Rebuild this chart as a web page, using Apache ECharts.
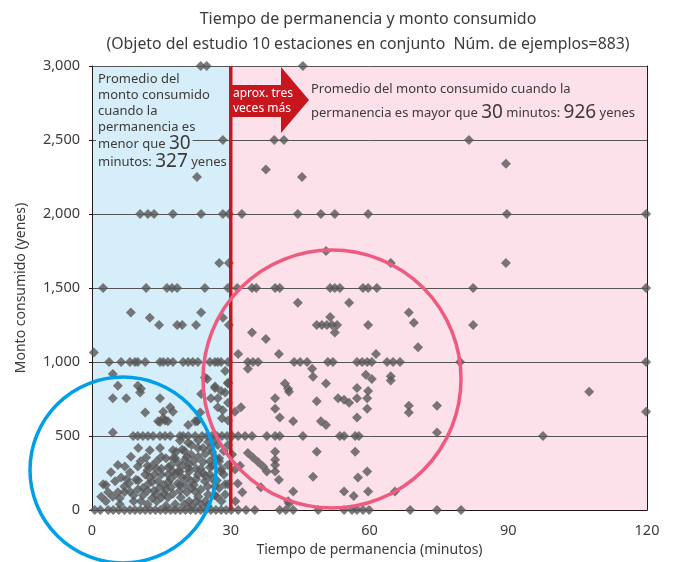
<!DOCTYPE html>
<html>
<head>
<meta charset="utf-8">
<script src="https://cdn.jsdelivr.net/npm/echarts@6/dist/echarts.min.js"></script>
<style>
  html, body { margin: 0; padding: 0; background: #fff; }
  #chart { width: 673px; height: 562px; }
</style>
</head>
<body>
<div id="chart"></div>
<script>
// ---- datos (minutos, yenes) ----
const ptsAbove2000 = [
  [23.5, 3000], [24.8, 3000], [45.6, 3000],
  [28.3, 2500], [39.4, 2500], [41.5, 2500], [81.5, 2500],
  [37.6, 2300], [22.7, 2250], [45.4, 2250], [89.5, 2340]
];
const ptsRow2000 = [
  [10.4, 2000], [12.1, 2000], [13.4, 2000], [17.5, 2000], [23.6, 2000], [28.3, 2000],
  [29.6, 2000], [32.4, 2000], [44.5, 2000], [49.5, 2000], [52.5, 2000], [59.7, 2000],
  [89.7, 2000], [119.8, 2000],
  [27.5, 1670], [29.6, 1670], [50.6, 1750], [64.6, 1670], [89.5, 1670]
];
const ptsRow1500 = [
  [2.4, 1500], [11.7, 1500], [16.2, 1500], [17.3, 1500], [18.4, 1500], [24.4, 1500],
  [29.4, 1500], [31.4, 1500], [34.6, 1500], [35.5, 1500], [39.6, 1500], [40.6, 1500],
  [51.5, 1500], [52.5, 1500], [53.6, 1500], [58.6, 1500], [59.7, 1500], [61.6, 1500],
  [82.4, 1500], [119.8, 1500]
];
const pts1000to1500 = [
  [8.4, 1335], [12.5, 1300], [14.5, 1250], [18.4, 1250], [19.5, 1250], [22.5, 1250],
  [23.6, 1335], [28.3, 1300], [29.6, 1250], [34.6, 1200], [37.6, 1155], [44.5, 1400],
  [55.6, 1400], [51.5, 1305], [48.6, 1250], [49.7, 1250], [50.8, 1250], [51.9, 1250],
  [53, 1250], [52.5, 1200], [59.7, 1250], [68.5, 1335], [69.6, 1265], [70.5, 1100],
  [31.6, 1055], [40.4, 1055], [61.4, 1055], [82.4, 1250], [0.4, 1065]
];
const ptsRow1000 = [
  [3.7, 1000], [6.3, 1000], [8.2, 1000], [9.3, 1000], [9.9, 1000], [11.5, 1000],
  [14.7, 1000], [15.4, 1000], [16.4, 1000], [17.5, 1000], [19.7, 1000], [20.8, 1000],
  [21.8, 1000], [22.9, 1000], [25.5, 1000], [26.6, 1000], [27.2, 1000], [27.9, 1000],
  [29.4, 1000], [33.7, 1000], [34.8, 1000], [35.9, 1000], [43.7, 1000], [45, 1000],
  [46.5, 1000], [51, 1000], [52.1, 1000], [57.3, 1000], [58.4, 1000], [59.5, 1000],
  [60.5, 1000], [63.8, 1000], [65.1, 1000], [66.6, 1000], [79.6, 1000], [119.8, 1000]
];
const pts500to1000Short = [
  [4.5, 920], [5.6, 840], [4.5, 755], [7.4, 755], [9.9, 840], [10.6, 820], [10.4, 795],
  [14.7, 755], [11.5, 660], [15.4, 665], [17.5, 665], [15.4, 620], [14.3, 600], [16.4, 600],
  [22.3, 600], [23.4, 660], [24.4, 895], [26.6, 835], [27.9, 805], [23.6, 785], [25.7, 755],
  [27.2, 755], [29.4, 860], [29.4, 725], [28.3, 675], [22.9, 605], [14.7, 595], [15.8, 605],
  [16.9, 695], [20.8, 575], [22.7, 600], [27.2, 695], [28.1, 620], [28.8, 940], [28.8, 795],
  [24.9, 885], [26.6, 825]
];
const pts500to1000Long = [
  [33.7, 955], [41.7, 855], [42.6, 800], [50.6, 855], [47.6, 955], [47.8, 900], [39.6, 755],
  [39.6, 685], [40.6, 625], [43.5, 600], [48.6, 735], [49.5, 600], [50.6, 575], [53.2, 755],
  [54.5, 745], [55.6, 725], [57.3, 825], [59.7, 805], [57.3, 755], [59.5, 755], [59.5, 685],
  [57.3, 625], [59.2, 915], [60.5, 885], [64.6, 905], [64.6, 875], [68.5, 705], [68.5, 660],
  [74.6, 705], [74.6, 525], [32.2, 695], [30.9, 665], [29.4, 855], [29.4, 605], [42.4, 820],
  [107.5, 800], [119.8, 665], [97.5, 500]
];
const ptsRow500 = [
  [4.5, 525], [8.9, 500], [9.9, 500], [11, 500], [12.1, 500], [13.2, 500], [14.7, 500],
  [15.8, 500], [16.9, 500], [19, 500], [19.7, 500], [20.8, 500], [22.3, 500], [23.8, 500],
  [24.9, 500], [25.9, 500], [27, 500], [28.1, 500], [29.2, 500],
  [30.3, 500], [31.6, 500], [33.1, 500], [34.6, 500], [37.8, 500], [39.6, 500], [40.6, 500],
  [45.6, 500], [53.6, 500], [54.5, 500], [56.9, 500], [57.7, 500]
];
const ptsBelow500Short = [
  [2.4, 175], [4.1, 255], [5.6, 305], [7.1, 295], [8.4, 360], [9.9, 295], [11.7, 355],
  [12.5, 405], [14.7, 420], [18.2, 395], [20.1, 340], [5, 195], [6.3, 220], [8.2, 255],
  [9.5, 205], [11.5, 240], [3.5, 120], [5.6, 120], [8.2, 125], [9.9, 140], [12.1, 175],
  [14.3, 195], [16.4, 240], [17.1, 155], [18.6, 260], [20.8, 285], [21.4, 195], [22.3, 125],
  [22.9, 240], [24, 325], [24.4, 195], [19.2, 85], [15, 85], [13.8, 105], [21.4, 375],
  [22.9, 420], [20.8, 455], [17.5, 405], [25.1, 460], [27.2, 440], [26.6, 355], [27.9, 260],
  [28.8, 175], [28.8, 105], [25.1, 105], [16.4, 85], [13.4, 130], [10.6, 60], [12, 40],
  [14, 60], [16, 30], [17.5, 110], [18.5, 180], [19.5, 300], [20.5, 220], [21.5, 150],
  [22.5, 60], [23.5, 280], [24.5, 380], [25.5, 240], [26.5, 160], [27.5, 330], [28.5, 400],
  [23, 470], [19, 470], [16, 350], [15, 280], [13, 300], [12.5, 220], [11, 150], [7, 160],
  [6, 80], [3, 60], [9, 60], [7.5, 210], [10.5, 330], [13.5, 240], [15.5, 170], [17, 300],
  [19, 130], [20, 40], [21, 260], [22, 330], [23.5, 140], [24.5, 60], [25.5, 420], [26, 300],
  [27, 200], [28, 60], [29.4, 440], [29.4, 305], [29.4, 175], [25.5, 330], [18, 350],
  [20, 400], [21.5, 440], [26.5, 470]
];
const ptsBelow500Dense = [
  [12, 270], [13, 190], [14, 330], [15, 240], [15.5, 110], [16.5, 190], [17.5, 260],
  [18, 40], [18.5, 320], [19.5, 220], [20.5, 120], [21, 60], [22, 170], [22.5, 280],
  [23, 90], [24, 250], [25, 160], [25, 30], [26, 210], [26.5, 100], [27.5, 150], [28, 280],
  [19, 170], [17, 210], [16, 140], [14.5, 150], [13, 80], [11, 100], [10, 200], [9, 100],
  [8, 180], [7, 120], [6, 40], [4.5, 90], [3, 170], [2, 90], [23, 360], [21, 310],
  [19.5, 410], [24, 420], [26, 390], [27, 90], [17.5, 350], [15, 360], [12, 300], [10, 420],
  [20, 170], [22.5, 210], [24.5, 230], [25.5, 290], [18, 240], [16.5, 290], [21.5, 30],
  [27.5, 350], [28.5, 240], [23.5, 40], [20.5, 360], [19, 260], [14, 280], [12, 130]
];
const ptsBelow500Long = [
  [33.7, 385], [34.8, 355], [35.9, 325], [37, 295], [37.8, 260], [39.6, 395], [39.6, 340],
  [39.6, 305], [39.6, 260], [40.4, 205], [48.6, 395], [47.8, 225], [36.5, 155], [43.5, 125],
  [42.4, 60], [54.5, 125], [56.6, 95], [57.5, 220], [59.5, 260], [56.9, 395], [59.7, 125],
  [65.5, 125], [42.6, 45], [30.3, 375], [30.9, 275], [31, 60], [32, 300], [31.5, 180],
  [32.5, 120]
];
const zeroRowMinutes = [
  0.6, 1.8, 3.5, 4.6, 5.8, 7, 8.2, 9.3, 10.4, 11.5, 12.6, 13.7, 14.8, 15.9, 17, 18, 19.1,
  20.2, 21.3, 22.4, 23.5, 24.6, 25.7, 26.8, 27.9, 29, 30.1, 31.6, 33.3, 35.2, 40.6, 41.9,
  43.5, 48.9, 54.5, 56.2, 57.3, 58.6, 59.9, 68.8, 74.6, 79.8
];
const limitMinutes = 30;

const allPoints = [].concat(
  ptsAbove2000, ptsRow2000, ptsRow1500, pts1000to1500, ptsRow1000,
  pts500to1000Short, pts500to1000Long, ptsRow500, ptsBelow500Short, ptsBelow500Dense,
  ptsBelow500Long,
  zeroRowMinutes.map(function (m) { return [m, 0]; })
);

const FONT = 'Noto Sans';
const TXT = '#3e3a39';

const chart = echarts.init(document.getElementById('chart'));

// una linea de texto de anotacion
function note(text, x, y, size, big, bg) {
  const st = {
    text: text, fontSize: size, fill: TXT, fontFamily: FONT, verticalAlign: 'middle',
    rich: { b: { fontSize: big, fill: TXT, fontFamily: FONT } }
  };
  if (bg) { st.backgroundColor = bg; st.padding = [0, 2]; }
  return { type: 'text', z: 4.5, x: x, y: y, style: st };
}

chart.setOption({
  animation: false,
  textStyle: { fontFamily: FONT },
  grid: { left: 92, right: 26, top: 66, bottom: 46 },
  xAxis: {
    type: 'value', min: 0, max: 120, interval: 30, z: 3,
    name: 'Tiempo de permanencia (minutos)', nameLocation: 'middle', nameGap: 29,
    nameTextStyle: { fontSize: 14, color: TXT, fontFamily: FONT },
    axisLine: { lineStyle: { color: '#231815', width: 1 } },
    axisTick: { show: false },
    axisLabel: { fontSize: 14.5, color: TXT, margin: 13, fontFamily: FONT },
    splitLine: { show: false }
  },
  yAxis: [{
    type: 'value', min: 0, max: 3000, interval: 500, z: 3,
    name: 'Monto consumido (yenes)', nameLocation: 'middle', nameGap: 64,
    nameTextStyle: { fontSize: 14, color: TXT, fontFamily: FONT },
    axisLine: { show: true, lineStyle: { color: '#231815', width: 1 } },
    axisTick: { show: true, length: 3, lineStyle: { color: '#231815' } },
    axisLabel: {
      fontSize: 14.5, color: TXT, margin: 12, fontFamily: FONT,
      formatter: function (v) { return v.toLocaleString('en-US'); }
    },
    splitLine: { show: true, lineStyle: { color: '#555', width: 1 } }
  }, {
    type: 'value', min: 0, max: 3000, interval: 500, position: 'right', z: 3,
    axisLine: { show: true, lineStyle: { color: '#231815', width: 1 } },
    axisTick: { show: false }, axisLabel: { show: false }, splitLine: { show: false }
  }],
  series: [
    {
      // fondos azul / rosa
      type: 'scatter', data: [], z: 1, silent: true,
      markArea: {
        silent: true,
        data: [
          [{ xAxis: 0, itemStyle: { color: '#d6eefa' } }, { xAxis: limitMinutes }],
          [{ xAxis: limitMinutes, itemStyle: { color: '#fce0ea' } }, { xAxis: 120 }]
        ]
      }
    },
    {
      type: 'scatter', data: allPoints, z: 4, clip: false,
      symbol: 'diamond', symbolSize: 10,
      itemStyle: { color: '#595757' }
    },
    {
      // linea de 30 minutos
      type: 'line', data: [[limitMinutes, 0], [limitMinutes, 3000]], z: 5,
      symbol: 'none', silent: true,
      lineStyle: { color: '#c8161e', width: 3.5 }
    }
  ],
  graphic: [
    {
      type: 'text', z: 10, x: 368, y: 19,
      style: {
        text: 'Tiempo de permanencia y monto consumido',
        fontSize: 16, fill: TXT, fontFamily: FONT, align: 'center', verticalAlign: 'middle'
      }
    },
    {
      type: 'text', z: 10, x: 368, y: 44,
      style: {
        text: '(Objeto del estudio 10 estaciones en conjunto  Núm. de ejemplos=883)',
        fontSize: 15.8, fill: TXT, fontFamily: FONT, align: 'center', verticalAlign: 'middle'
      }
    },
    // flecha roja
    {
      type: 'polygon', z: 10,
      shape: { points: [[229, 85], [281, 85], [281, 67], [309, 100], [281, 133], [281, 117], [229, 117]] },
      style: { fill: '#c8161e' }
    },
    {
      type: 'text', z: 11, x: 233, y: 101,
      style: { text: 'aprox. tres\nveces más', fontSize: 12, lineHeight: 15, fill: '#fff', fontFamily: FONT, verticalAlign: 'middle' }
    },
    // circulos
    {
      type: 'circle', z: 10, shape: { cx: 123, cy: 470, r: 93 },
      style: { fill: 'none', stroke: '#00a0e9', lineWidth: 3.5 }
    },
    {
      type: 'circle', z: 10, shape: { cx: 332, cy: 379, r: 129 },
      style: { fill: 'none', stroke: '#ef5b7f', lineWidth: 3.5 }
    },
    note('Promedio del', 96, 79, 13, 19, '#d6eefa'),
    note('monto consumido', 96, 95, 13, 19, '#d6eefa'),
    note('cuando la', 96, 111, 13, 19, '#d6eefa'),
    note('permanencia es', 96, 127, 13, 19, '#d6eefa'),
    note('menor que {b|30}', 96, 144, 13, 19, '#d6eefa'),
    note('minutos: {b|327} yenes', 96, 162, 13, 19, '#d6eefa'),
    note('Promedio del monto consumido cuando la', 311, 89, 13, 19),
    note('permanencia es mayor que {b|30} minutos: {b|926} yenes', 311, 113, 13, 19)
  ]
});
</script>
</body>
</html>
